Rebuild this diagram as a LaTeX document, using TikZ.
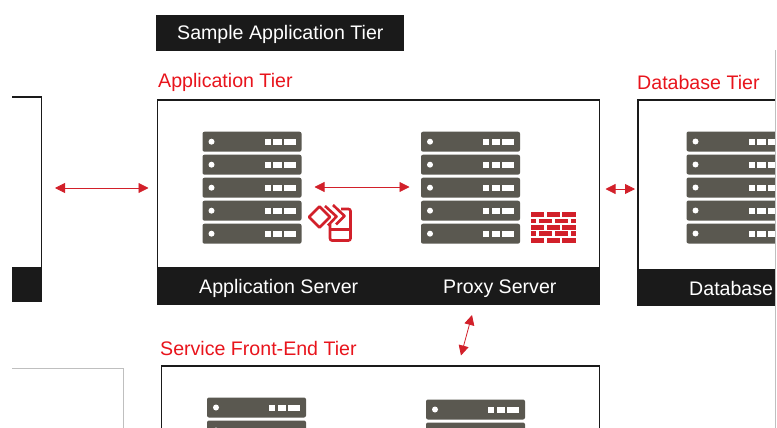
\documentclass[tikz,border=0pt]{standalone}
\usepackage{fontspec}
\setmainfont{Liberation Sans}
\usetikzlibrary{arrows.meta}
\definecolor{srvgray}{HTML}{5A5850}
\definecolor{tierred}{HTML}{E8141C}
\definecolor{iconred}{HTML}{D2202A}
\definecolor{barblack}{HTML}{1A1A1A}
\tikzset{
  tierbox/.style={draw=barblack,line width=1.5pt,fill=white,anchor=north west,inner sep=0pt,outer sep=0pt},
  tierbar/.style={fill=barblack,draw=none,anchor=north west,inner sep=0pt,outer sep=0pt},
  tierlabel/.style={text=tierred,anchor=base west,inner sep=0pt,font=\fontsize{19.6}{22}\selectfont},
  barlabel/.style={text=white,anchor=base west,inner sep=0pt,font=\fontsize{19.6}{22}\selectfont},
  linkarrow/.style={{Triangle[length=10pt,width=10pt]}-{Triangle[length=10pt,width=10pt]},color=iconred,line width=0.8pt},
  srvunit/.pic={
    \fill[srvgray,rounded corners=2pt] (0,0) rectangle (99,20);
    \fill[white] (9,10) circle (3);
    \fill[white] (62,7) rectangle (68,13);
    \fill[white] (70.5,7) rectangle (79,13);
    \fill[white] (81,7) rectangle (93,13);
  }
}
\begin{document}
\begin{tikzpicture}[x=1pt,y=-1pt]
  \useasboundingbox (0,0) rectangle (777,428);

  \node[tierbar,minimum width=248pt,minimum height=36.5pt,text=white] (title) at (155.5,15) {};
  \node[barlabel] (titletext) at (177,40) {Sample Application Tier};

  % cut off tiers at the edges
  \draw[line width=1.5pt,draw=barblack] (12,97) -- (41.5,97) -- (41.5,302);
  \fill[barblack] (12,267) rectangle (42,302);
  \draw[line width=0.7pt,draw=black!25] (12,368.5) -- (123.5,368.5) -- (123.5,428);

  \node[tierlabel] (applabel) at (158,88) {Application Tier};
  \node[tierbox,minimum width=442pt,minimum height=204pt] (apptier) at (157.5,100) {};
  \node[tierbar,minimum width=442pt,minimum height=37pt] (appbar) at (157.5,267) {};
  \node[barlabel] (appserver) at (199,293) {Application Server};
  \node[barlabel] (proxyserver) at (443,293) {Proxy Server};

  \node[tierlabel] (dblabel) at (637,89) {Database Tier};
  \begin{scope}
    \clip (600,90) rectangle (775,320);
    \node[tierbox,minimum width=160pt,minimum height=205pt] (dbtier) at (638,100) {};
    \node[tierbar,minimum width=160pt,minimum height=37pt] (dbbar) at (638,268.5) {};
    \node[barlabel] (dbserver) at (689,295) {Database};
    \foreach \row in {0,...,4} {
      \pic at (686.5,{131.5+23*\row}) {srvunit};
    }
  \end{scope}
  \draw[line width=0.7pt,draw=black!25] (775,50) -- (775,428);

  \node[tierlabel] (frontlabel) at (160,355) {Service Front-End Tier};
  \begin{scope}
    \clip (150,360) rectangle (620,428);
    \node[tierbox,minimum width=438pt,minimum height=100pt] (fronttier) at (161.5,366) {};
  \end{scope}

  \foreach \row in {0,...,4} {
    \pic at (202.5,{131.7+23*\row}) {srvunit};
    \pic at (421,{131.7+23*\row}) {srvunit};
  }
  \begin{scope}
    \clip (150,390) rectangle (620,428);
    \foreach \row in {0,1} {
      \pic at (207,{397.5+23*\row}) {srvunit};
      \pic at (426,{399.5+23*\row}) {srvunit};
    }
  \end{scope}

  % mobile icon
  \begin{scope}[color=iconred,line width=2.6pt,line join=round]
    \draw[rounded corners=2pt] (341,209) -- (350.5,209) -- (350.5,240.5) -- (330,240.5) -- (330,224);
    \draw (330,229.5) -- (350.5,229.5);
    \draw (309,217) -- (319.5,206.5) -- (330,217) -- (319.5,227.5) -- cycle;
    \draw (325,206) -- (336.5,216.5) -- (328,225.5);
    \draw (333,205) -- (344.5,216) -- (336,224.5);
  \end{scope}

  % firewall icon
  \foreach \ytop in {212.3,224.9,237.7} {
    \fill[iconred] (531,\ytop) rectangle (544,\ytop+4.8);
    \fill[iconred] (546.7,\ytop) rectangle (559.7,\ytop+4.8);
    \fill[iconred] (562.3,\ytop) rectangle (575.7,\ytop+4.8);
  }
  \foreach \ytop in {218.6,231.2} {
    \fill[iconred] (531,\ytop) rectangle (536,\ytop+4.6);
    \fill[iconred] (539,\ytop) rectangle (552,\ytop+4.6);
    \fill[iconred] (554.7,\ytop) rectangle (567.7,\ytop+4.6);
    \fill[iconred] (570.7,\ytop) rectangle (575.7,\ytop+4.6);
  }

  \coordinate (leftend) at (55,188);
  \coordinate (appwest) at (148.5,188);
  \coordinate (srvleft) at (314.5,187);
  \coordinate (srvright) at (409.5,187);
  \coordinate (appeast) at (605.5,189);
  \coordinate (dbwest) at (635,189);
  \coordinate (proxydown) at (472,315);
  \coordinate (frontup) at (461,355.5);
  \draw[linkarrow] (leftend) -- (appwest);
  \draw[linkarrow] (srvleft) -- (srvright);
  \draw[linkarrow] (appeast) -- (dbwest);
  \draw[linkarrow] (proxydown) -- (frontup);
\end{tikzpicture}
\end{document}
